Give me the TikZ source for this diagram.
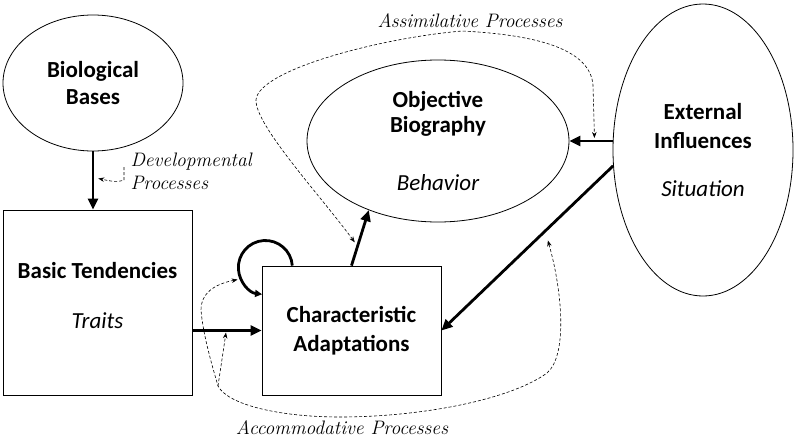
\documentclass[tikz,border=0pt]{standalone}
\usepackage{fontspec}
\setsansfont{Carlito}
\usetikzlibrary{shapes.geometric,arrows.meta,calc}
\begin{document}
\begin{tikzpicture}[x=1pt, y=-1pt,
    every node/.style={font=\sffamily\bfseries\fontsize{23}{25}\selectfont, align=center},
    bubble/.style={draw, ellipse, line width=0.8pt, inner sep=0pt},
    block/.style={draw, rectangle, line width=0.8pt, inner sep=0pt},
    mainarrow/.style={line width=2.8pt, -{Triangle[length=11pt,width=10pt]}},
    looparrow/.style={line width=2.8pt, -{Triangle[length=7pt,width=7pt]}},
    procline/.style={dash pattern=on 3pt off 2pt, line width=0.6pt, -{Stealth[length=6pt,width=4.5pt]}},
    procboth/.style={procline, {Stealth[length=6pt,width=4.5pt]}-{Stealth[length=6pt,width=4.5pt]}},
    proclabel/.style={font=\rmfamily\itshape\fontsize{19.5}{23}\selectfont}]
    \useasboundingbox (0,0) rectangle (800,439);
    % the five parts
    \node[bubble, minimum width=180pt, minimum height=136pt] (bio) at (93,83) {Biological\\[2pt]Bases};
    \node[block, minimum width=189pt, minimum height=185pt, text depth=15pt] (basic) at (97.5,302.5) {Basic Tendencies\\[25pt]{\mdseries\itshape Traits}};
    \node[block, minimum width=179pt, minimum height=129pt] (char) at (351.5,330.5) {Characteristic\\[4pt]Adaptations};
    \node[bubble, minimum width=262pt, minimum height=162pt] (obj) at (438,141) {Objective\\Biography\\[33pt]{\mdseries\itshape Behavior}};
    \node[bubble, minimum width=180pt, minimum height=292pt] (ext) at (703,150) {External\\[4pt]Influences\\[23pt]{\mdseries\itshape Situation}};
    % solid paths
    \draw[mainarrow] (bio.south) -- (bio.south |- basic.north);
    \draw[mainarrow] (basic.east |- char.west) -- (char.west);
    \draw[mainarrow] (char.north) -- (obj.225);
    \draw[mainarrow] (obj.east -| ext.west) -- (obj.east);
    \draw[mainarrow] (ext.190) -- (char.east);
    \draw[looparrow] ([xshift=30.7pt]char.north west) arc[start angle=-4, end angle=-263, radius=27];
    % process labels
    \node[proclabel, anchor=west, align=left] (devlabel) at (127,171) {Developmental\\Processes};
    \node[proclabel] (assimlabel) at (470,21) {Assimilative Processes};
    \node[proclabel] (accomlabel) at (342,428) {Accommodative Processes};
    % dashed process paths
    \coordinate (devtip) at ($(bio.south)!0.5!(basic.north)+(3,-2)$);
    \draw[procline] ([shift={(-3,-4)}]devlabel.west) -- ++(0,13) .. controls +(-8,3) and +(10,2) .. (devtip);
    \coordinate (assimA) at ($(char.north)!0.42!(obj.225)+(-4,0)$);
    \coordinate (assimB) at ($(obj.east -| ext.west)!0.42!(obj.east)+(0,-3)$);
    \draw[procboth] (assimA) .. controls (320,195) and (255,125) .. (256,100)
        .. controls (258,70) and (380,38) .. (462,31)
        .. controls (540,35) and (590,50) .. (593,85) -- (assimB);
    \coordinate (accA) at ([shift={(-24,14)}]char.north west);
    \coordinate (accB) at ($(basic.east |- char.west)!0.5!(char.west)+(-1,2)$);
    \coordinate (accC) at ($(ext.190)!0.38!(char.east)+(0,12)$);
    \coordinate (accjoin) at (218,386);
    \draw[procboth] (accA) .. controls (220,283) and (201,290) .. (201,310)
        .. controls (203,335) and (212,365) .. (accjoin)
        .. controls (228,405) and (280,417) .. (340,417)
        .. controls (420,417) and (510,400) .. (547,373)
        .. controls (568,355) and (562,290) .. (accC);
    \draw[procline] (accjoin) -- (accB);
\end{tikzpicture}
\end{document}
